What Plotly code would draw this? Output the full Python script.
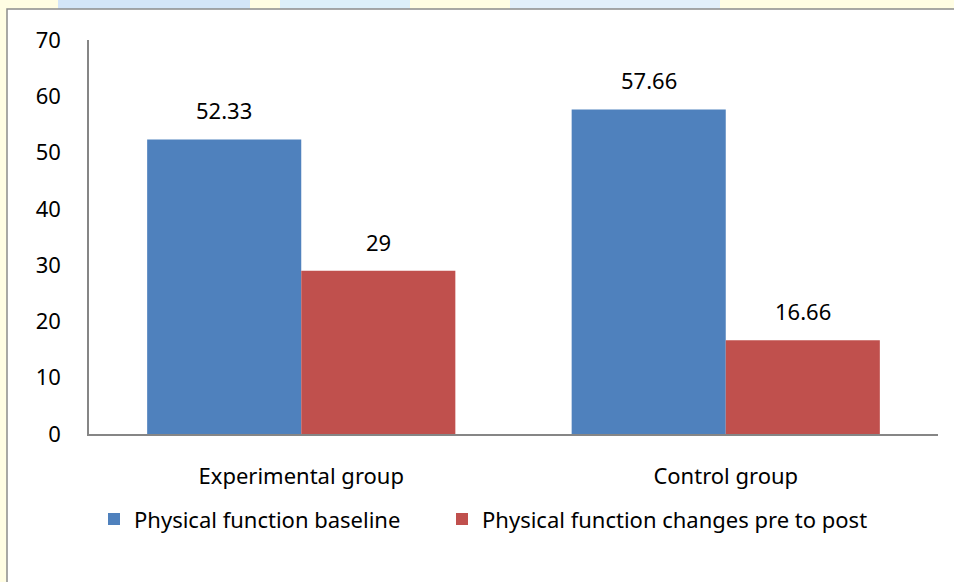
import plotly.graph_objects as go

categories = ["Experimental group", "Control group"]
baseline = [52.33, 57.66]
changes = [29, 16.66]
baseline_labels = ["52.33", "57.66"]
changes_labels = ["29", "16.66"]
series_names = ["Physical function baseline", "Physical function changes pre to post"]
colors = ["#4F81BD", "#C0504D"]
yticks = [0, 10, 20, 30, 40, 50, 60, 70]

W, H = 954, 582
L, R, T, B = 89, 16, 40, 148
pw, ph = W - L - R, H - T - B

def px(x):
    return (x - L) / pw

def py(y):
    return (H - B - y) / ph

FONT = "Noto Sans, sans-serif"
FS = 22

fig = go.Figure()
fig.add_trace(go.Bar(x=categories, y=baseline, name=series_names[0], legend="legend",
                     marker=dict(color=colors[0], line=dict(width=0))))
fig.add_trace(go.Bar(x=categories, y=changes, name=series_names[1], legend="legend2",
                     marker=dict(color=colors[1], line=dict(width=0))))

bargap = 0.274
bar_px = pw / len(categories) * (1 - bargap) / 2
annotations = []
for i, c in enumerate(categories):
    for vals, labs, sh in ((baseline, baseline_labels, -bar_px / 2), (changes, changes_labels, bar_px / 2)):
        annotations.append(dict(x=c, y=vals[i], text=labs[i], showarrow=False,
                                xshift=sh, yshift=29, font=dict(size=FS, color="#000"),
                                xref="x", yref="y"))

shapes = [
    dict(type="rect", xref="paper", yref="paper", x0=px(0), x1=px(7), y0=py(H), y1=py(0),
         fillcolor="#FFFDE3", line=dict(width=0), layer="below"),
    dict(type="rect", xref="paper", yref="paper", x0=px(0), x1=px(W), y0=py(9), y1=py(0),
         fillcolor="#FFFDE3", line=dict(width=0), layer="below"),
    dict(type="rect", xref="paper", yref="paper", x0=px(58), x1=px(250), y0=py(9), y1=py(0),
         fillcolor="#D3E5F8", line=dict(width=0), layer="below"),
    dict(type="rect", xref="paper", yref="paper", x0=px(280), x1=px(410), y0=py(9), y1=py(0),
         fillcolor="#DCEFFA", line=dict(width=0), layer="below"),
    dict(type="rect", xref="paper", yref="paper", x0=px(510), x1=px(720), y0=py(9), y1=py(0),
         fillcolor="#E2EFFB", line=dict(width=0), layer="below"),
    dict(type="path", xref="paper", yref="paper",
         path=f"M {px(7)},{py(H)} L {px(7)},{py(9)} L {px(W)},{py(9)}",
         line=dict(color="#8C8C8C", width=1.5)),
]

legend_common = dict(orientation="h", xanchor="left", y=-0.163, yanchor="top",
                     font=dict(size=FS), bgcolor="rgba(0,0,0,0)")

fig.update_layout(
    width=W, height=H,
    margin=dict(l=L, r=R, t=T, b=B),
    paper_bgcolor="white", plot_bgcolor="white",
    barmode="group", bargap=bargap, bargroupgap=0,
    font=dict(family=FONT, size=FS, color="#000"),
    showlegend=True,
    legend=dict(x=px(94), **legend_common),
    legend2=dict(x=px(442), **legend_common),
    xaxis=dict(showline=True, linecolor="#868686", linewidth=1.5, ticks="",
               showgrid=False, ticklabelstandoff=22, tickfont=dict(size=FS)),
    yaxis=dict(range=[0, 70], tickvals=yticks, showline=True, linecolor="#868686",
               linewidth=1.5, showgrid=False, zeroline=False, ticks="",
               ticklabelstandoff=22, tickfont=dict(size=FS)),
    annotations=annotations,
    shapes=shapes,
)

fig.write_html("out.html", config={"displayModeBar": False},
               post_script="document.body.style.margin='0';document.body.style.overflow='hidden';")
